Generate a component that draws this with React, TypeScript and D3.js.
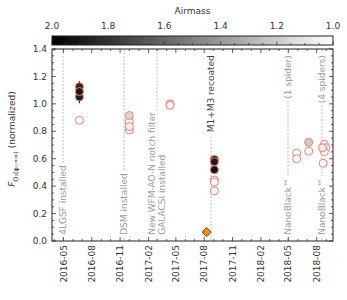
import React, { useEffect, useRef } from 'react';
import * as d3 from 'd3';

// observations: date, normalized flux, error, airmass
const obsDates = [
  '2016-06-22', '2016-06-22', '2016-06-22', '2016-06-22',
  '2016-12-01', '2016-12-01', '2016-12-01', '2016-12-01',
  '2017-04-12', '2017-04-12',
  '2017-09-03', '2017-09-03', '2017-09-03', '2017-09-03', '2017-09-03', '2017-09-03',
  '2018-05-28', '2018-05-28',
  '2018-07-06', '2018-07-06',
  '2018-08-26', '2018-08-20', '2018-08-31', '2018-08-26', '2018-08-22',
];
const fluxValues = [
  1.125, 1.09, 1.05, 0.88,
  0.915, 0.87, 0.835, 0.81,
  1.0, 0.99,
  0.595, 0.578, 0.52, 0.445, 0.43, 0.365,
  0.64, 0.6,
  0.72, 0.655,
  0.705, 0.68, 0.68, 0.652, 0.567,
];
const fluxErrors = [
  0.04, 0.04, 0.045, 0,
  0, 0, 0, 0,
  0.02, 0,
  0, 0, 0, 0, 0, 0,
  0, 0,
  0, 0,
  0, 0, 0, 0, 0,
];
const airmassValues = [
  1.85, 1.9, 1.88, 1.0,
  1.15, 1.0, 1.05, 1.0,
  1.0, 1.02,
  1.88, 1.9, 1.92, 1.0, 1.0, 1.0,
  1.0, 1.0,
  1.2, 1.0,
  1.0, 1.08, 1.0, 1.0, 1.0,
];

// reference measurement (diamond)
const refDates = ['2017-08-09'];
const refValues = [0.065];

// events
const eventDates = ['2016-04-30', '2016-11-14', '2017-03-01', '2017-08-23', '2018-04-30', '2018-08-18'];
const noteDates = ['2016-04-30', '2016-11-14', '2017-03-01', '2017-03-01', '2017-08-23', '2018-04-30', '2018-04-30', '2018-08-18', '2018-08-18'];
const noteTexts = [
  '4LGSF installed', 'DSM installed', 'New WFM-AO-N notch filter', 'GALACSI installed',
  'M1+M3 recoated', 'NanoBlack™', '(1 spider)', 'NanoBlack™', '(4 spiders)',
];
const noteSides = ['bottom', 'bottom', 'bottom', 'bottom', 'top', 'bottom', 'top', 'bottom', 'top'];

const xTickLabels = [
  '2016-05', '2016-08', '2016-11', '2017-02', '2017-05',
  '2017-08', '2017-11', '2018-02', '2018-05', '2018-08',
];
const yTicks = [0.0, 0.2, 0.4, 0.6, 0.8, 1.0, 1.2, 1.4];
const airmassTicks = [2.0, 1.8, 1.6, 1.4, 1.2, 1.0];

const FONT = 'DejaVu Sans';

const App = () => {
  const ref = useRef<SVGSVGElement | null>(null);

  useEffect(() => {
    const parse = d3.utcParse('%Y-%m-%d');
    const parseM = d3.utcParse('%Y-%m');
    const left = 52, right = 333, top = 49, bottom = 241;

    const x = d3.scaleUtc()
      .domain([parse('2016-03-25')!, parse('2018-09-23')!])
      .range([left, right]);
    const y = d3.scaleLinear().domain([0, 1.4]).range([bottom, top]);
    const am = d3.scaleLinear().domain([2, 1]).range([left, right]);
    const gray = d3.scaleLinear<string>().domain([2, 1]).range(['#000000', '#ffffff']).clamp(true);

    const svg = d3.select(ref.current);
    svg.selectAll('*').remove();
    svg.style('font-family', FONT);

    // colorbar
    const defs = svg.append('defs');
    const grad = defs.append('linearGradient').attr('id', 'amgrad');
    grad.append('stop').attr('offset', '0%').attr('stop-color', '#000');
    grad.append('stop').attr('offset', '100%').attr('stop-color', '#fff');
    svg.append('rect')
      .attr('x', left).attr('y', 36).attr('width', right - left).attr('height', 9)
      .attr('fill', 'url(#amgrad)').attr('stroke', '#222').attr('stroke-width', 1);
    svg.append('g').selectAll('line')
      .data(d3.range(1.0, 2.001, 0.05))
      .enter().append('line')
      .attr('x1', d => am(d)).attr('x2', d => am(d))
      .attr('y1', 45).attr('y2', d => Math.abs(d * 5 - Math.round(d * 5)) < 1e-6 ? 41.5 : 43)
      .attr('stroke', '#333').attr('stroke-width', 0.8);
    svg.append('g').selectAll('text')
      .data(airmassTicks)
      .enter().append('text')
      .attr('x', d => am(d)).attr('y', 29)
      .attr('text-anchor', 'middle')
      .style('font-size', '9px').attr('fill', '#333')
      .text(d => d.toFixed(1));
    svg.append('text')
      .attr('x', (left + right) / 2).attr('y', 14)
      .attr('text-anchor', 'middle')
      .style('font-size', '9px').attr('fill', '#333')
      .text('Airmass');

    // event lines
    svg.append('g').selectAll('line')
      .data(eventDates)
      .enter().append('line')
      .attr('x1', d => x(parse(d)!)).attr('x2', d => x(parse(d)!))
      .attr('y1', top).attr('y2', bottom)
      .attr('stroke', '#aaa').attr('stroke-width', 0.8)
      .attr('stroke-dasharray', '2,1.5');

    // annotations
    const shifts: Record<string, number> = {
      'New WFM-AO-N notch filter': -5,
      'GALACSI installed': 5,
    };
    noteTexts.forEach((t, i) => {
      const xp = x(parse(noteDates[i])!) + (shifts[t] || 0);
      const isTop = noteSides[i] === 'top';
      const yp = isTop ? y(1.355) : y(0.045);
      const g = svg.append('g').attr('transform', `translate(${xp},${yp}) rotate(-90)`);
      const rect = g.append('rect').attr('fill', '#fff');
      const txt = g.append('text')
        .attr('text-anchor', isTop ? 'end' : 'start')
        .attr('dy', '0.35em')
        .style('font-size', '9px')
        .attr('fill', t === 'M1+M3 recoated' ? '#444' : '#9a9a9a')
        .text(t);
      const len = (txt.node() as SVGTextElement).getComputedTextLength();
      rect.attr('x', isTop ? -len - 2 : -2).attr('y', -5.5)
        .attr('width', len + 4).attr('height', 11);
    });

    // axes frame and ticks
    const minorMonths = d3.utcMonth.range(x.domain()[0], x.domain()[1]);
    const majorX = xTickLabels.map(d => parseM(d)!);
    const tickG = svg.append('g').attr('stroke', '#333').attr('stroke-width', 0.8);
    minorMonths.forEach(d => {
      const isMaj = majorX.some(m => +m === +d);
      const l = isMaj ? 4 : 2;
      tickG.append('line').attr('x1', x(d)).attr('x2', x(d)).attr('y1', bottom).attr('y2', bottom - l);
      tickG.append('line').attr('x1', x(d)).attr('x2', x(d)).attr('y1', top).attr('y2', top + l);
    });
    d3.range(0, 1.4001, 0.05).forEach(v => {
      const isMaj = Math.abs(v * 5 - Math.round(v * 5)) < 1e-6;
      const l = isMaj ? 4 : 2;
      tickG.append('line').attr('x1', left).attr('x2', left + l).attr('y1', y(v)).attr('y2', y(v));
      tickG.append('line').attr('x1', right).attr('x2', right - l).attr('y1', y(v)).attr('y2', y(v));
    });
    svg.append('rect')
      .attr('x', left).attr('y', top).attr('width', right - left).attr('height', bottom - top)
      .attr('fill', 'none').attr('stroke', '#222').attr('stroke-width', 1);

    svg.append('g').selectAll('text')
      .data(majorX)
      .enter().append('text')
      .attr('transform', d => `translate(${x(d)},${bottom + 4}) rotate(-90)`)
      .attr('text-anchor', 'end').attr('dy', '0.35em')
      .style('font-size', '9px').attr('fill', '#333')
      .text(d => d3.utcFormat('%Y-%m')(d));
    svg.append('g').selectAll('text')
      .data(yTicks)
      .enter().append('text')
      .attr('x', left - 5).attr('y', d => y(d)).attr('dy', '0.35em')
      .attr('text-anchor', 'end')
      .style('font-size', '9px').attr('fill', '#333')
      .text(d => d.toFixed(1));

    // y label
    const yl = svg.append('text')
      .attr('transform', `translate(15,${(top + bottom) / 2 - 6}) rotate(-90)`)
      .attr('text-anchor', 'middle')
      .style('font-size', '9px').attr('fill', '#333');
    yl.append('tspan').style('font-style', 'italic').text('F');
    yl.append('tspan').attr('dy', 2.5).style('font-size', '6.5px').text('O₂(φ₁→∞)');
    yl.append('tspan').attr('dy', -2.5).text(' (normalized)');

    // data
    const pts = obsDates.map((d, i) => ({
      date: parse(d)!, v: fluxValues[i], e: fluxErrors[i], a: airmassValues[i],
    }));
    svg.append('g').selectAll('line')
      .data(pts.filter(p => p.e > 0))
      .enter().append('line')
      .attr('x1', p => x(p.date)).attr('x2', p => x(p.date))
      .attr('y1', p => y(p.v - p.e)).attr('y2', p => y(p.v + p.e))
      .attr('stroke', '#111').attr('stroke-width', 1.1);
    svg.append('g').selectAll('circle')
      .data([...pts].sort((a, b) => a.a - b.a))
      .enter().append('circle')
      .attr('cx', p => x(p.date)).attr('cy', p => y(p.v)).attr('r', 4)
      .attr('fill', p => gray(p.a))
      .attr('stroke', '#f47a66').attr('stroke-width', 1);

    svg.append('g').selectAll('path')
      .data(refDates.map((d, i) => ({ date: parse(d)!, v: refValues[i] })))
      .enter().append('path')
      .attr('d', d3.symbol().type(d3.symbolSquare).size(42)()!)
      .attr('transform', p => `translate(${x(p.date)},${y(p.v)}) rotate(45)`)
      .attr('fill', '#ff8c00').attr('stroke', '#333').attr('stroke-width', 0.8);
  }, []);

  return (
    <svg
      ref={ref}
      width={347}
      height={300}
      style={{ position: 'absolute', left: 0, top: 0, background: '#fff' }}
    />
  );
};

export default App;
